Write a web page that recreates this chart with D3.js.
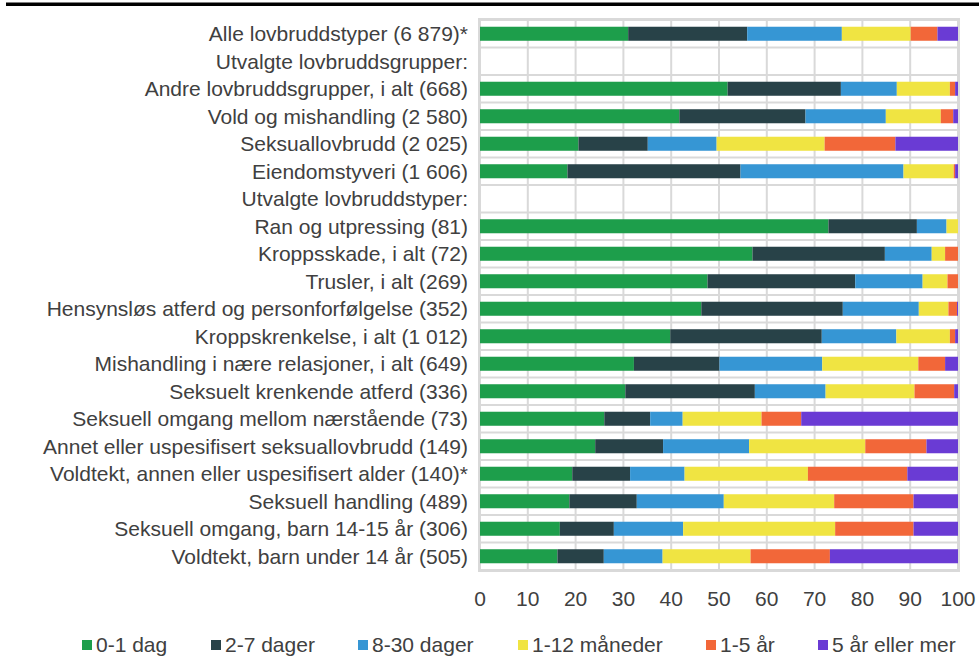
<!DOCTYPE html>
<html>
<head>
<meta charset="utf-8">
<script src="https://cdn.jsdelivr.net/npm/d3@7"></script>
<style>
  body { margin: 0; background: #fff; }
  svg { display: block; font-family: "Liberation Sans", Arial, sans-serif; }
</style>
</head>
<body>
<div id="chart"></div>
<script>
const categories = [
  "Alle lovbruddstyper (6 879)*",
  "Utvalgte lovbruddsgrupper:",
  "Andre lovbruddsgrupper, i alt (668)",
  "Vold og mishandling (2 580)",
  "Seksuallovbrudd (2 025)",
  "Eiendomstyveri (1 606)",
  "Utvalgte lovbruddstyper:",
  "Ran og utpressing (81)",
  "Kroppsskade, i alt  (72)",
  "Trusler, i alt (269)",
  "Hensynsløs atferd og personforfølgelse (352)",
  "Kroppskrenkelse, i alt (1 012)",
  "Mishandling i nære relasjoner, i alt  (649)",
  "Seksuelt krenkende atferd (336)",
  "Seksuell omgang mellom nærstående (73)",
  "Annet eller uspesifisert seksuallovbrudd (149)",
  "Voldtekt, annen eller uspesifisert alder (140)*",
  "Seksuell handling (489)",
  "Seksuell omgang, barn 14-15 år (306)",
  "Voldtekt, barn under 14 år (505)"
];

const seriesNames = ["0-1 dag", "2-7 dager", "8-30 dager", "1-12 måneder", "1-5 år", "5 år eller mer"];
const colors = ["#1d9e4b", "#284248", "#3696d4", "#f0e442", "#f26739", "#6a3bd4"];

// percent per category, null = heading row
const dag0_1   = [31.0, null, 51.8, 41.7, 20.6, 18.3, null, 72.9, 57.0, 47.6, 46.3, 39.8, 32.2, 30.4, 26.0, 24.1, 19.3, 18.7, 16.7, 16.2];
const dager2_7 = [24.9, null, 23.7, 26.4, 14.5, 36.2, null, 18.5, 27.7, 30.9, 29.6, 31.7, 17.9, 27.1,  9.6, 14.2, 12.1, 14.1, 11.3,  9.7];
const dager8_30= [19.8, null, 11.7, 16.8, 14.4, 34.1, null,  6.2,  9.8, 14.1, 15.9, 15.6, 21.5, 14.8,  6.8, 18.0, 11.4, 18.2, 14.5, 12.3];
const mnd1_12  = [14.4, null, 11.1, 11.5, 22.6, 10.5, null,  2.4,  2.8,  5.2,  6.2, 11.2, 20.1, 18.6, 16.5, 24.3, 25.8, 23.1, 31.8, 18.4];
const aar1_5   = [ 5.6, null,  1.1,  2.6, 14.8,  0.3, null,  0.0,  2.7,  2.2,  1.8,  1.1,  5.6,  8.3,  8.3, 12.8, 20.8, 16.6, 16.4, 16.6];
const aar5plus = [ 4.3, null,  0.6,  1.0, 13.1,  0.6, null,  0.0,  0.0,  0.0,  0.2,  0.6,  2.7,  0.8, 32.8,  6.6, 10.6,  9.3,  9.3, 26.8];

const xTicks = [0, 10, 20, 30, 40, 50, 60, 70, 80, 90, 100];

const width = 979;
const height = 657;
const margin = { top: 20, right: 21, bottom: 87, left: 480 };
const innerWidth  = width - margin.left - margin.right;
const innerHeight = height - margin.top - margin.bottom;
const fontSize = "21px";

const rows = categories.map((c, i) => {
  const r = { cat: c };
  [dag0_1, dager2_7, dager8_30, mnd1_12, aar1_5, aar5plus].forEach((arr, k) => {
    r[seriesNames[k]] = arr[i] == null ? 0 : arr[i];
  });
  return r;
});

const stacked = d3.stack().keys(seriesNames)(rows);

const svg = d3.select("#chart")
  .append("svg")
  .attr("width", width)
  .attr("height", height);

// top rule
svg.append("rect")
  .attr("x", 6).attr("y", 2.5)
  .attr("width", width - 6).attr("height", 3.5)
  .attr("fill", "#000");

const inner = svg.append("g")
  .attr("transform", `translate(${margin.left}, ${margin.top})`);

const xScale = d3.scaleLinear().domain([0, 100]).range([0, innerWidth]);
const yScale = d3.scaleBand().domain(categories).range([0, innerHeight]).paddingInner(0.49).paddingOuter(0.245);
const yGrid = d3.scaleBand().domain(categories).range([0, innerHeight]);

const gridColor = "#d9d9d9";

// vertical gridlines
inner.selectAll(".vgrid")
  .data(xTicks)
  .join("line")
    .attr("x1", d => xScale(d)).attr("x2", d => xScale(d))
    .attr("y1", 0).attr("y2", innerHeight)
    .attr("stroke", gridColor).attr("stroke-width", 2);

// horizontal gridlines at band edges
inner.selectAll(".hgrid")
  .data(categories.concat(["__end"]))
  .join("line")
    .attr("x1", 0).attr("x2", innerWidth)
    .attr("y1", (d, i) => i < categories.length ? yGrid(d) : innerHeight)
    .attr("y2", (d, i) => i < categories.length ? yGrid(d) : innerHeight)
    .attr("stroke", gridColor).attr("stroke-width", 2);

// frame
inner.append("rect")
  .attr("x", -1).attr("y", -1)
  .attr("width", innerWidth + 2).attr("height", innerHeight + 2)
  .attr("fill", "none")
  .attr("stroke", gridColor).attr("stroke-width", 2);

// bars
inner.selectAll(".series")
  .data(stacked)
  .join("g")
    .attr("fill", (d, i) => colors[i])
  .selectAll("rect")
  .data(d => d.filter(p => p[1] - p[0] > 0))
  .join("rect")
    .attr("x", d => xScale(d[0]))
    .attr("y", d => yScale(d.data.cat))
    .attr("width", d => xScale(d[1]) - xScale(d[0]))
    .attr("height", yScale.bandwidth());

// category labels
inner.selectAll(".cat")
  .data(categories)
  .join("text")
    .attr("x", -12)
    .attr("y", d => yGrid(d) + yGrid.bandwidth() / 2)
    .attr("dy", "0.35em")
    .attr("text-anchor", "end")
    .attr("fill", "#404040")
    .style("font-size", fontSize)
    .text(d => d);

// x tick labels
inner.selectAll(".tick-label")
  .data(xTicks)
  .join("text")
    .attr("x", d => xScale(d))
    .attr("y", innerHeight + 29)
    .attr("dy", "0.35em")
    .attr("text-anchor", "middle")
    .attr("fill", "#404040")
    .style("font-size", fontSize)
    .text(d => d);

// legend
const legendX = [82, 211, 358, 518, 706, 818];
const legend = svg.selectAll(".legend")
  .data(seriesNames)
  .join("g")
    .attr("transform", (d, i) => `translate(${legendX[i]}, 645)`);

legend.append("rect")
  .attr("x", 0).attr("y", -5)
  .attr("width", 10).attr("height", 10)
  .attr("fill", (d, i) => colors[i]);

legend.append("text")
  .attr("x", 14)
  .attr("y", 0)
  .attr("dy", "0.35em")
  .attr("fill", "#404040")
  .style("font-size", fontSize)
  .text(d => d);
</script>
</body>
</html>
